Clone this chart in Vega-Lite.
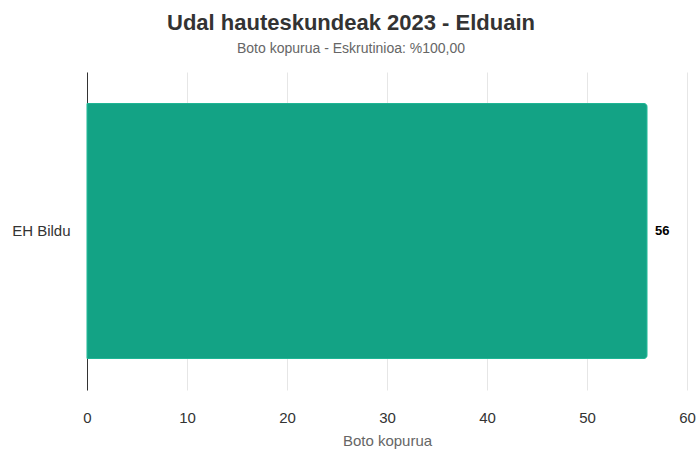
{
  "$schema": "https://vega.github.io/schema/vega-lite/v6.json",
  "width": 600,
  "height": 318,
  "autosize": "none",
  "padding": {"left": 87, "top": 72, "right": 13, "bottom": 77},
  "background": "white",
  "title": {
    "text": "Udal hauteskundeak 2023 - Elduain",
    "subtitle": "Boto kopurua - Eskrutinioa: %100,00",
    "anchor": "middle",
    "frame": "group",
    "dx": -36,
    "font": "Liberation Sans",
    "fontSize": 22,
    "fontWeight": "bold",
    "color": "#333333",
    "subtitleFont": "Liberation Sans",
    "subtitleFontSize": 14,
    "subtitleColor": "#666666",
    "subtitlePadding": 7,
    "offset": 15
  },
  "data": {
    "values": [
      {"alderdia": "EH Bildu", "botoak": 56}
    ]
  },
  "encoding": {
    "y": {
      "field": "alderdia",
      "type": "nominal",
      "title": null,
      "scale": {"paddingInner": 0.11, "paddingOuter": 0.11},
      "axis": {
        "ticks": false,
        "domain": true,
        "domainColor": "#333333",
        "domainWidth": 1,
        "labelFont": "Liberation Sans",
        "labelFontSize": 15,
        "labelColor": "#333333",
        "labelPadding": 17
      }
    },
    "x": {
      "field": "botoak",
      "type": "quantitative",
      "title": "Boto kopurua",
      "scale": {"domain": [0, 60]},
      "axis": {
        "values": [0, 10, 20, 30, 40, 50, 60],
        "domain": false,
        "ticks": false,
        "grid": true,
        "gridColor": "#e6e6e6",
        "labelFlush": false,
        "labelFont": "Liberation Sans",
        "labelFontSize": 15,
        "labelColor": "#333333",
        "labelPadding": 20,
        "titleFont": "Liberation Sans",
        "titleFontSize": 15,
        "titleFontWeight": "normal",
        "titleColor": "#666666",
        "titlePadding": 8
      }
    }
  },
  "layer": [
    {
      "mark": {
        "type": "bar",
        "color": "#13a385",
        "stroke": "#1fb594",
        "strokeWidth": 1,
        "cornerRadiusEnd": 3
      }
    },
    {
      "mark": {
        "type": "text",
        "align": "left",
        "dx": 8,
        "font": "Liberation Sans",
        "fontSize": 13,
        "fontWeight": "bold",
        "color": "#000000"
      },
      "encoding": {"text": {"field": "botoak", "type": "quantitative"}}
    }
  ],
  "config": {"view": {"stroke": null}}
}
